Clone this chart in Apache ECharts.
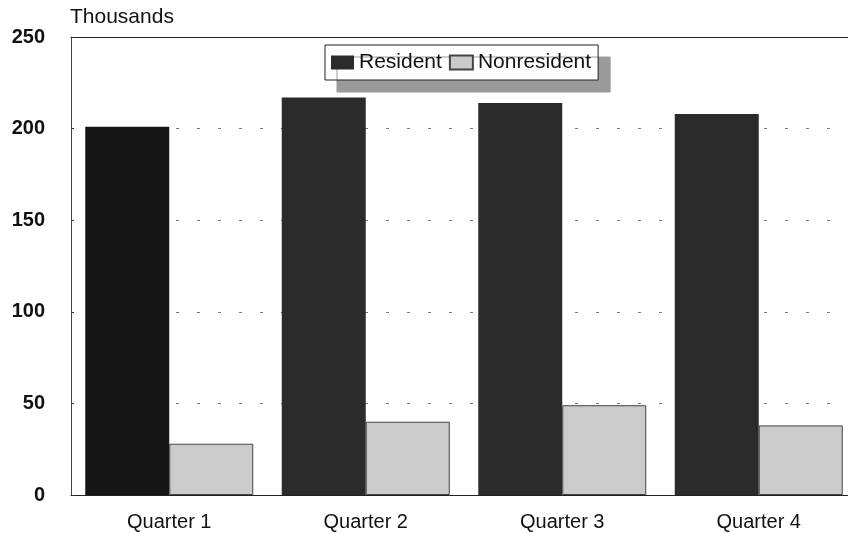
<!DOCTYPE html>
<html><head><meta charset="utf-8">
<script src="https://cdn.jsdelivr.net/npm/echarts@6/dist/echarts.min.js"></script>
<style>html,body{margin:0;padding:0;background:#fff;overflow:hidden;width:848px;height:533px}#c{width:864px;height:533px}</style>
</head><body><div id="c"></div>
<script>
const categories = ['Quarter 1', 'Quarter 2', 'Quarter 3', 'Quarter 4'];
const resident = [201, 217, 214, 208];
const nonresident = [28, 40, 49, 38];
const yTicks = [0, 50, 100, 150, 200, 250];
const residentColors = ['#151515', '#2b2b2b', '#2b2b2b', '#2b2b2b'];

const chart = echarts.init(document.getElementById('c'));
const font = 'Liberation Sans, Arial, Helvetica, sans-serif';
chart.setOption({
  animation: false,
  textStyle: { fontFamily: font },
  grid: { left: 71, top: 37, width: 786, height: 458 },
  legend: {
    left: 325, top: 45,
    padding: [7, 7, 7, 6],
    itemWidth: 23, itemHeight: 14, itemGap: 7,
    icon: 'rect',
    backgroundColor: '#fff',
    borderColor: '#222', borderWidth: 1,
    shadowColor: '#9a9a9a', shadowBlur: 0, shadowOffsetX: 12, shadowOffsetY: 12,
    textStyle: { fontSize: 21, color: '#111', fontFamily: font },
    data: ['Resident', 'Nonresident']
  },
  graphic: [{ type: 'text', left: 70, top: 7, style: { text: 'Thousands', fontSize: 21, fill: '#111', fontFamily: font } }],
  xAxis: [{
    type: 'category', data: categories,
    axisLine: { lineStyle: { color: '#222', width: 1 } },
    axisTick: { show: false },
    axisLabel: { fontSize: 20, color: '#111', margin: 17, fontFamily: font }
  }, {
    type: 'category', data: categories, position: 'top',
    axisLine: { show: true, lineStyle: { color: '#222', width: 1 } },
    axisTick: { show: false }, axisLabel: { show: false }
  }],
  yAxis: {
    type: 'value', min: yTicks[0], max: yTicks[yTicks.length - 1], interval: 50,
    axisLine: { show: true, lineStyle: { color: '#444' } },
    axisTick: { show: true, inside: true, length: 3, lineStyle: { color: '#333' } },
    axisLabel: { fontSize: 20, fontWeight: 'bold', color: '#111', margin: 26, fontFamily: font },
    splitLine: { show: true, lineStyle: { color: '#777', type: [3, 18], width: 1 } }
  },
  series: [
    {
      name: 'Resident', type: 'bar', barWidth: 84, barGap: '0%',
      itemStyle: { color: '#2b2b2b' },
      data: resident.map((v, i) => ({ value: v, itemStyle: { color: residentColors[i] } }))
    },
    {
      name: 'Nonresident', type: 'bar', barWidth: 84,
      itemStyle: { color: '#cbcbcb', borderColor: '#444', borderWidth: 1 },
      data: nonresident
    }
  ]
});
</script></body></html>
